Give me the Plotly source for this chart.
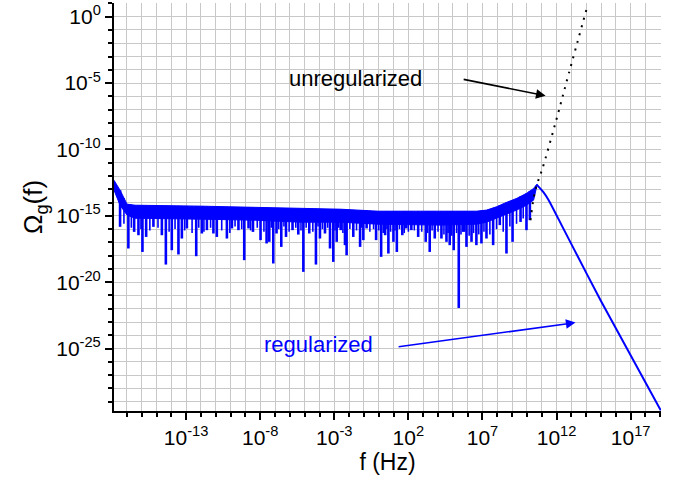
import numpy as np
import plotly.graph_objects as go

# ---- data (log10 f [Hz], log10 Omega_g) ----
# solid noisy band of the regularized spectrum: envelope
band_logf = [-17.87, -17.46, -16.99, -16.45, -12.05, -8.34, -5.30, -2.59, -0.03,
             4.16, 6.59, 7.27, 7.95, 8.62, 9.30, 9.97, 10.45, 10.65]
band_top = [-12.32, -13.07, -14.12, -14.20, -14.27, -14.38, -14.46, -14.50, -14.65,
            -14.65, -14.65, -14.57, -14.32, -13.99, -13.69, -13.31, -12.94, -12.64]
band_bottom = [-13.07, -14.20, -14.95, -15.18, -15.25, -15.33, -15.48, -15.48, -15.63,
               -15.70, -15.63, -15.48, -15.18, -14.87, -14.57, -14.20, -13.82, -12.85]

# deep downward spikes (dips) of the regularized spectrum
spike_logf = [-17.46, -16.90, -16.51, -16.22, -15.95, -15.70, -15.21, -14.64, -14.37, -13.97,
              -13.52, -13.29, -12.95, -12.32, -11.94, -11.60, -11.16, -10.93, -10.25, -9.91,
              -9.47, -9.08, -8.79, -8.49, -7.98, -7.57, -7.39, -7.12, -6.90, -6.58,
              -6.26, -5.82, -5.43, -5.09, -4.69, -4.24, -3.97, -3.63, -3.29, -3.07,
              -2.84, -2.57, -2.28, -2.17, -1.72, -1.26, -1.04, -0.82, -0.18, 0.16,
              0.43, 0.65, 0.99, 1.22, 1.59, 1.86, 2.20, 2.66, 3.17, 3.44,
              3.78, 4.23, 4.57, 4.79, 5.06, 5.40, 5.70, 5.92, 6.26, 6.59,
              6.93, 7.27, 7.72, 8.17, 8.62, 9.03, 9.57, 9.97, 10.20]
spike_logy = [-15.83, -17.46, -16.21, -16.46, -17.72, -16.59, -15.83, -16.46, -18.67, -17.59,
              -17.91, -16.71, -15.95, -18.04, -16.33, -16.08, -16.33, -16.59, -16.71, -15.95,
              -16.08, -18.34, -15.95, -16.21, -16.83, -17.08, -16.96, -18.59, -16.33, -17.34,
              -16.59, -16.08, -16.41, -19.22, -16.33, -18.67, -16.71, -16.33, -17.46, -18.47,
              -16.96, -16.08, -17.21, -17.97, -16.59, -17.34, -16.83, -15.95, -16.83, -18.09,
              -16.46, -17.84, -16.96, -17.72, -16.46, -15.95, -16.08, -16.59, -16.96, -17.72,
              -16.71, -16.71, -16.96, -17.21, -17.59, -21.94, -16.21, -17.34, -16.96, -17.21,
              -17.08, -16.71, -17.21, -15.70, -17.84, -16.96, -15.46, -16.08, -15.33]

# shallow dips that make the ragged lower edge of the band
dip_logf = [-17.2, -16.7, -16.05, -15.45, -14.9, -14.15, -13.75, -13.1, -12.6, -12.15,
            -11.8, -11.35, -10.6, -10.05, -9.7, -9.25, -8.65, -8.2, -7.75, -7.25,
            -6.75, -6.4, -6.05, -5.6, -5.25, -4.9, -4.45, -4.1, -3.8, -3.45,
            -2.95, -2.7, -2.42, -1.95, -1.5, -1.15, -0.6, -0.35, 0.0, 0.3,
            0.55, 0.8, 1.1, 1.4, 1.72, 2.0, 2.4, 2.9, 3.3, 3.6,
            4.0, 4.4, 4.68, 4.93, 5.25, 5.55, 5.8, 6.1, 6.4, 6.75,
            7.1, 7.5, 7.95, 8.4, 8.85, 9.3, 9.75]
dip_logy = [-15.6, -15.9, -16.0, -16.1, -15.9, -16.2, -16.0, -16.1, -16.3, -15.9,
            -16.2, -15.9, -16.1, -16.3, -15.8, -16.0, -16.1, -15.9, -16.2, -15.9,
            -16.0, -15.8, -16.2, -15.9, -16.1, -15.9, -16.2, -15.8, -16.0, -15.9,
            -16.1, -15.9, -16.3, -16.0, -16.1, -15.9, -16.2, -16.0, -16.1, -16.3,
            -16.0, -16.2, -16.1, -16.0, -16.3, -16.2, -16.1, -16.2, -16.3, -16.1,
            -16.2, -16.4, -16.3, -16.5, -16.3, -16.4, -16.2, -16.5, -16.3, -16.4,
            -16.2, -16.4, -16.0, -16.2, -15.8, -15.6, -15.2]

# smooth high-frequency fall-off of the regularized spectrum
decay_logf = [10.65, 10.72, 11.10, 11.46, 12.41, 13.15, 14.97, 19.03]
decay_logy = [-12.64, -12.72, -13.20, -13.80, -15.85, -17.45, -21.36, -29.65]

# unregularized spectrum (dotted)
unreg_logf = [10.24, 10.47, 10.70, 11.03, 11.93, 12.83, 14.07]
unreg_logy = [-15.33, -13.57, -12.56, -11.50, -7.99, -4.27, 0.75]

# tick labels
x_major_exp = [-13, -8, -3, 2, 7, 12, 17]
y_major_exp = [-25, -20, -15, -10, -5, 0]

BLUE = "#0000ff"
GRID = "#c8c8c8"
FONT = "Liberation Sans, Arial, sans-serif"

fig = go.Figure()

# band polygon
poly_x = [10 ** v for v in band_logf] + [10 ** v for v in band_logf[::-1]]
poly_y = [10 ** v for v in band_top] + [10 ** v for v in band_bottom[::-1]]
fig.add_trace(go.Scatter(x=poly_x, y=poly_y, mode="lines", fill="toself",
                         fillcolor=BLUE, line=dict(color=BLUE, width=1),
                         hoverinfo="skip", showlegend=False))


def segments(fs, ds):
    xs, ys = [], []
    for f, d in zip(fs, ds):
        start = np.interp(f, band_logf, band_top)
        xs += [10 ** f, 10 ** f, None]
        ys += [10 ** start, 10 ** d, None]
    return xs, ys


dx, dy = segments(dip_logf, dip_logy)
fig.add_trace(go.Scatter(x=dx, y=dy, mode="lines", line=dict(color=BLUE, width=1.6),
                         hoverinfo="skip", showlegend=False))
sx, sy = segments(spike_logf, spike_logy)
fig.add_trace(go.Scatter(x=sx, y=sy, mode="lines", line=dict(color=BLUE, width=2.6),
                         hoverinfo="skip", showlegend=False))

# fall-off
fig.add_trace(go.Scatter(x=[10 ** v for v in decay_logf], y=[10 ** v for v in decay_logy],
                         mode="lines", line=dict(color=BLUE, width=2, shape="spline",
                                                 smoothing=0.6),
                         showlegend=False))

# unregularized dotted
fig.add_trace(go.Scatter(x=[10 ** v for v in unreg_logf], y=[10 ** v for v in unreg_logy],
                         mode="lines", line=dict(color="black", width=2, dash="2px,6px",
                                                 shape="spline"),
                         showlegend=False))

axis_common = dict(
    type="log", showline=True, linecolor="black", linewidth=2, mirror=False,
    ticks="outside", ticklen=7, tickwidth=1.5, tickcolor="black",
    showgrid=True, gridcolor=GRID, gridwidth=1, zeroline=False,
    tickfont=dict(family=FONT, size=21, color="black"),
)

fig.update_xaxes(
    **axis_common,
    range=[-17.87, 19.05],
    tickvals=[10 ** e for e in x_major_exp],
    ticktext=[f"10<sup>{e}</sup>" for e in x_major_exp],
    minor=dict(tickvals=[10 ** k for k in range(-17, 20)], ticks="outside", ticklen=4,
               tickwidth=1.5, tickcolor="black", showgrid=True, gridcolor=GRID, gridwidth=1),
    title=dict(text="f (Hz)", font=dict(family=FONT, size=23, color="black"), standoff=4),
)
fig.update_yaxes(
    **axis_common,
    range=[-29.7, 1.03],
    tickvals=[10 ** e for e in y_major_exp],
    ticktext=[f"10<sup>{e}</sup>" for e in y_major_exp],
    minor=dict(tickvals=[10 ** k for k in range(-29, 2)], ticks="outside", ticklen=4,
               tickwidth=1.5, tickcolor="black", showgrid=True, gridcolor=GRID, gridwidth=1),
    title=dict(text="Ω<sub>g</sub>(f)", font=dict(family=FONT, size=26, color="black"), standoff=6),
)

annotations = [
    dict(x=-1.56, y=-4.62, xref="x", yref="y", text="unregularized", showarrow=False,
         font=dict(family=FONT, size=22, color="black")),
    dict(x=11.26, y=-5.96, ax=5.63, ay=-4.70, xref="x", yref="y", axref="x", ayref="y",
         text="", showarrow=True, arrowhead=2, arrowsize=1.2, arrowwidth=1.6,
         arrowcolor="black", standoff=0, startstandoff=0),
    dict(x=-4.08, y=-24.68, xref="x", yref="y", text="regularized", showarrow=False,
         font=dict(family=FONT, size=22, color=BLUE)),
    dict(x=13.28, y=-23.04, ax=1.24, ay=-24.88, xref="x", yref="y", axref="x", ayref="y",
         text="", showarrow=True, arrowhead=2, arrowsize=1.2, arrowwidth=1.6,
         arrowcolor=BLUE, standoff=0, startstandoff=0),
]

fig.update_layout(
    width=680, height=482,
    margin=dict(l=114, r=19, t=3, b=71),
    plot_bgcolor="white", paper_bgcolor="white",
    font=dict(family=FONT, size=20, color="black"),
    showlegend=False,
    annotations=annotations,
)

fig.write_html("out.html")
